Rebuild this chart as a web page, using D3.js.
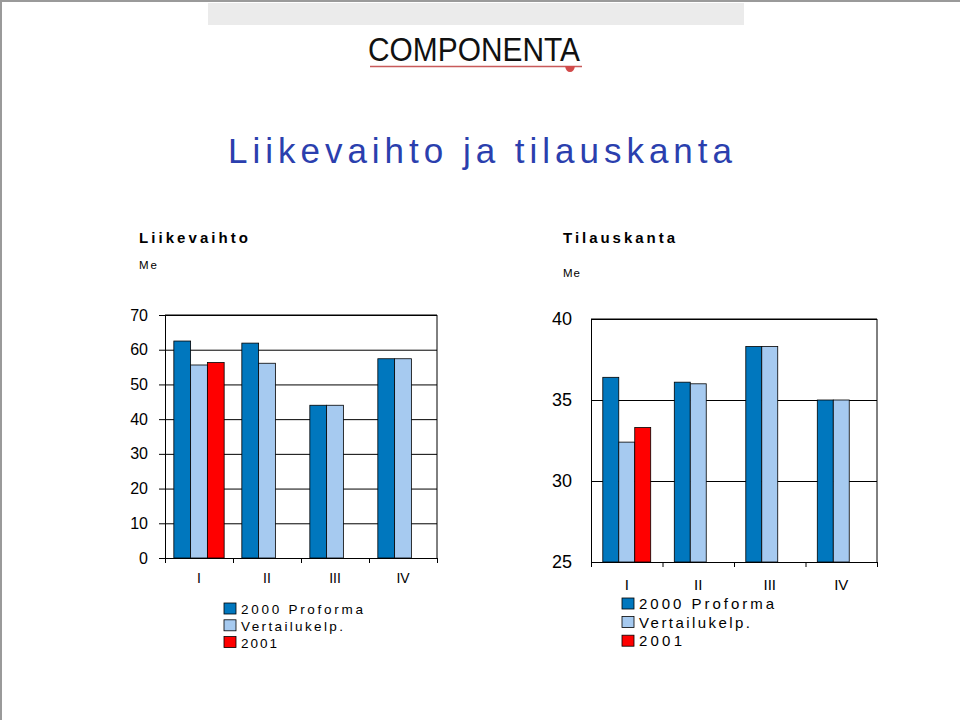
<!DOCTYPE html>
<html>
<head>
<meta charset="utf-8">
<script src="https://cdn.jsdelivr.net/npm/d3@7"></script>
<style>
  html, body { margin: 0; padding: 0; background: #fff; }
  svg { display: block; font-family: "Liberation Sans", Arial, sans-serif; }
</style>
</head>
<body>
<svg id="chart" width="960" height="720"></svg>
<script>
// ---------- data ----------
const categories = ["I", "II", "III", "IV"];
const seriesNames = ["2000 Proforma", "Vertailukelp.", "2001"];
const seriesColors = ["#0077be", "#a6caf0", "#ff0000"];

const liikevaihto2000 = [62.5, 61.9, 44.0, 57.4];
const liikevaihtoVert = [55.6, 56.1, 44.0, 57.4];
const liikevaihto2001 = [56.3, null, null, null];
const liikevaihtoTicks = [0, 10, 20, 30, 40, 50, 60, 70];

const tilaus2000 = [36.4, 36.1, 38.3, 35.0];
const tilausVert = [32.4, 36.0, 38.3, 35.0];
const tilaus2001 = [33.3, null, null, null];
const tilausTicks = [25, 30, 35, 40];

const titleText = "Liikevaihto ja tilauskanta";
const leftTitle = "Liikevaihto";
const rightTitle = "Tilauskanta";
const unitText = "Me";

// ---------- page chrome ----------
const svg = d3.select("#chart");
svg.append("rect").attr("x", 0).attr("y", 0).attr("width", 960).attr("height", 2).attr("fill", "#9a9a9a");
svg.append("rect").attr("x", 0).attr("y", 0).attr("width", 2).attr("height", 720).attr("fill", "#9a9a9a");
svg.append("rect").attr("x", 208).attr("y", 3).attr("width", 536).attr("height", 22).attr("fill", "#ebebeb");

// logo
svg.append("text").attr("x", 368).attr("y", 61).attr("font-size", 33)
  .attr("textLength", 212).attr("lengthAdjust", "spacingAndGlyphs")
  .attr("fill", "#111").text("COMPONENTA");
svg.append("line").attr("x1", 370).attr("x2", 582).attr("y1", 66.5).attr("y2", 66.5)
  .attr("stroke", "#c85a5a").attr("stroke-width", 1.5);
svg.append("path").attr("d", "M565,66 Q566,72 570,72 Q574,72 575,66 Z").attr("fill", "#d24a4a");

// title
svg.append("text").attr("x", 228).attr("y", 163).attr("font-size", 35)
  .attr("textLength", 504).attr("lengthAdjust", "spacing")
  .attr("fill", "#2b3fae").text(titleText);

// subtitles
svg.append("text").attr("x", 139).attr("y", 243).attr("font-size", 15).attr("font-weight", "bold")
  .attr("textLength", 109).attr("lengthAdjust", "spacing").text(leftTitle);
svg.append("text").attr("x", 139).attr("y", 269).attr("font-size", 11.5)
  .attr("textLength", 18).attr("lengthAdjust", "spacing").text(unitText);
svg.append("text").attr("x", 563).attr("y", 243).attr("font-size", 15).attr("font-weight", "bold")
  .attr("textLength", 112).attr("lengthAdjust", "spacing").text(rightTitle);
svg.append("text").attr("x", 563).attr("y", 277).attr("font-size", 11.5)
  .attr("textLength", 17).attr("lengthAdjust", "spacing").text(unitText);

// ---------- chart function ----------
function drawChart(cfg) {
  const g = svg.append("g");
  const x = d3.scaleBand().domain(categories).range([cfg.x0, cfg.x1]).paddingInner(0).paddingOuter(0);
  const bw = x.bandwidth();
  const xs = d3.scaleBand().domain(seriesNames).range([bw * cfg.pad, bw * (1 - cfg.pad)]).padding(0);
  const y = d3.scaleLinear().domain(cfg.domain).range([cfg.y0, cfg.y1]);

  // grid lines
  g.append("g").attr("transform", `translate(${cfg.x0},0)`)
    .call(d3.axisLeft(y).tickValues(cfg.ticks).tickSize(-(cfg.x1 - cfg.x0)).tickFormat(""))
    .call(a => a.select(".domain").remove())
    .call(a => a.selectAll("line").attr("stroke", "#000").attr("stroke-width", 1));

  // border (top/right)
  g.append("path")
    .attr("d", `M${cfg.x0},${cfg.y1}H${cfg.x1}V${cfg.y0}`)
    .attr("fill", "none").attr("stroke", "#000");

  // bars
  const seriesData = cfg.series;
  categories.forEach((c, i) => {
    seriesNames.forEach((s, j) => {
      const v = seriesData[j][i];
      if (v == null) return;
      g.append("rect")
        .attr("x", x(c) + xs(s))
        .attr("y", y(v))
        .attr("width", xs.bandwidth())
        .attr("height", y(cfg.domain[0]) - y(v))
        .attr("fill", seriesColors[j])
        .attr("stroke", "#000").attr("stroke-width", 0.8);
    });
  });

  // y axis
  const ya = g.append("g").attr("transform", `translate(${cfg.x0},0)`)
    .call(d3.axisLeft(y).tickValues(cfg.ticks).tickSize(cfg.yTickSize).tickPadding(cfg.yPad).tickSizeOuter(0));
  ya.select(".domain").attr("stroke", "#000");
  ya.selectAll("line").attr("stroke", "#000");
  ya.selectAll("text").attr("font-size", cfg.yFont).attr("fill", "#000")
    .attr("font-family", "Liberation Sans, Arial, sans-serif");

  // x axis boundary ticks
  const xb = d3.scaleLinear().domain([0, categories.length]).range([cfg.x0, cfg.x1]);
  const xa = g.append("g").attr("transform", `translate(0,${cfg.y0})`)
    .call(d3.axisBottom(xb).tickValues(d3.range(categories.length + 1)).tickSize(5).tickSizeOuter(0).tickFormat(""));
  xa.selectAll("line,path").attr("stroke", "#000");

  // x labels
  const xl = g.append("g").attr("transform", `translate(0,${cfg.y0})`)
    .call(d3.axisBottom(x).tickSize(0).tickPadding(cfg.xPad));
  xl.select(".domain").remove();
  xl.selectAll("text").attr("font-size", cfg.xFont).attr("fill", "#000")
    .attr("font-family", "Liberation Sans, Arial, sans-serif");

  // legend
  const lg = svg.append("g");
  seriesNames.forEach((s, j) => {
    const yy = cfg.legY + j * cfg.legStep;
    lg.append("rect").attr("x", cfg.legX).attr("y", yy).attr("width", cfg.legBox).attr("height", cfg.legBox - 1)
      .attr("fill", seriesColors[j]).attr("stroke", "#000").attr("stroke-width", 0.8);
    lg.append("text").attr("x", cfg.legX + cfg.legBox + 5).attr("y", yy + cfg.legBox - 1)
      .attr("font-size", cfg.legFont)
      .attr("textLength", cfg.legLens[j]).attr("lengthAdjust", "spacing")
      .text(s);
  });
}

drawChart({
  x0: 165, x1: 437, y0: 558, y1: 315, domain: [0, 70], ticks: liikevaihtoTicks,
  pad: 0.13, series: [liikevaihto2000, liikevaihtoVert, liikevaihto2001],
  yTickSize: 6, yPad: 11, yFont: 16, xPad: 15, xFont: 14,
  legX: 224, legY: 603, legStep: 16.8, legBox: 12, legFont: 13.5, legLens: [122, 102, 36]
});

drawChart({
  x0: 591, x1: 877, y0: 562, y1: 319, domain: [25, 40], ticks: tilausTicks,
  pad: 0.165, series: [tilaus2000, tilausVert, tilaus2001],
  yTickSize: 0, yPad: 19, yFont: 18, xPad: 17, xFont: 15,
  legX: 622, legY: 598, legStep: 18.6, legBox: 12, legFont: 15, legLens: [135, 111, 43]
});
</script>
</body>
</html>
